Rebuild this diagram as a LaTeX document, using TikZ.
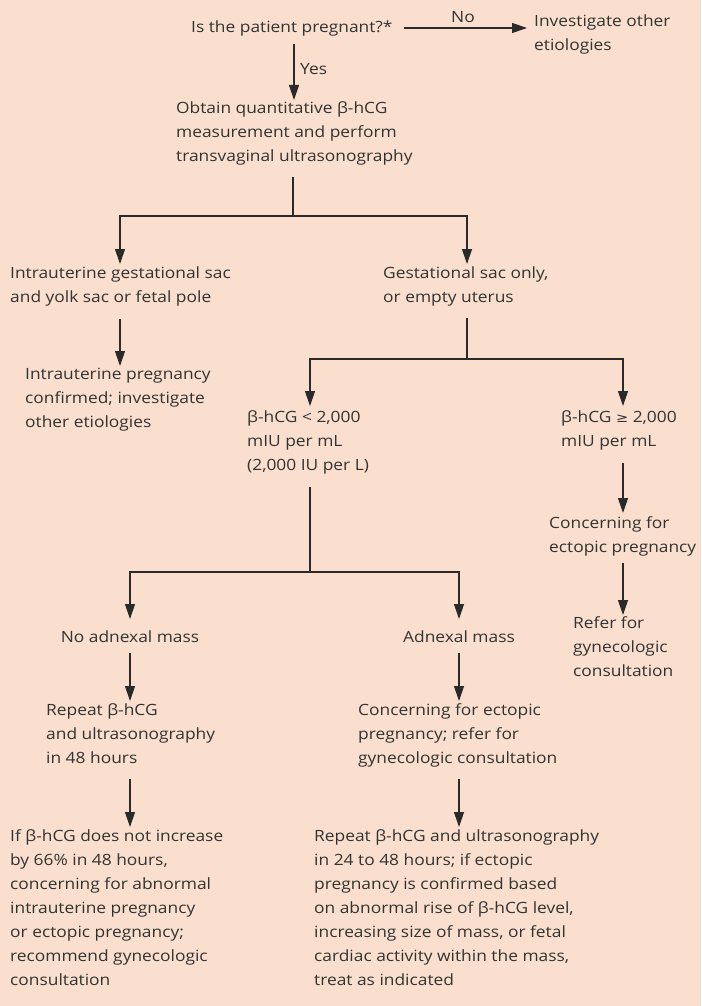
\documentclass[tikz,border=0pt]{standalone}
\usepackage{fontspec}
\setmainfont{Open Sans}[FakeStretch=1.12]
\newfontfamily\symf{DejaVu Sans}[FakeStretch=1.12]
\usetikzlibrary{arrows.meta}
\definecolor{bg}{HTML}{FADFCE}
\definecolor{ink}{HTML}{333333}
\definecolor{lnk}{HTML}{2A2A2A}
\newcommand{\bhcg}{β-hCG}
\begin{document}
\begin{tikzpicture}[x=1pt,y=-1pt,
  txt/.style={anchor=north west, inner sep=0pt, align=left, text=ink,
    font=\fontsize{15.5}{24}\selectfont, execute at begin node=\rule{0pt}{17pt}},
  ctxt/.style={txt, anchor=north, align=center},
  lbl/.style={inner sep=0pt, text=ink, font=\fontsize{15.5}{24}\selectfont},
  ln/.style={line width=1.2pt, draw=lnk},
  arr/.style={ln, -{Triangle[length=15pt,width=10pt]}}]
\fill[bg] (0,0) rectangle (701,1006);
\useasboundingbox (0,0) rectangle (701,1006);

% nodes
\node[txt] (q) at (191,15) {Is the patient pregnant?*};
\node[txt] (inv) at (534,15) {Investigate other\\etiologies};
\node[txt] (obtain) at (176,101) {Obtain quantitative \bhcg\\measurement and perform\\transvaginal ultrasonography};
\node[txt] (ius) at (10,267) {Intrauterine gestational sac\\and yolk sac or fetal pole};
\node[txt] (gso) at (383,267) {Gestational sac only,\\or empty uterus};
\node[txt] (iup) at (25,368) {Intrauterine pregnancy\\confirmed; investigate\\other etiologies};
\node[txt] (lt) at (247,410) {\bhcg{} < 2,000\\mIU per mL\\(2,000 IU per L)};
\node[txt] (ge) at (561,410) {\bhcg{} {\symf\fontsize{13}{24}\selectfont ≥} 2,000\\mIU per mL};
\node[txt] (cep) at (549,516) {Concerning for\\ectopic pregnancy};
\node[txt] (ref) at (573,616) {Refer for\\gynecologic\\consultation};
\node[ctxt] (nam) at (130,625) {No adnexal mass};
\node[ctxt] (am) at (459,625) {Adnexal mass};
\node[txt] (rep) at (46,703) {Repeat \bhcg\\and ultrasonography\\in 48 hours};
\node[txt] (cfe) at (358,703) {Concerning for ectopic\\pregnancy; refer for\\gynecologic consultation};
\node[txt] (bl) at (10,829) {If \bhcg{} does not increase\\by 66\% in 48 hours,\\concerning for abnormal\\intrauterine pregnancy\\or ectopic pregnancy;\\recommend gynecologic\\consultation};
\node[txt] (br) at (314,829) {Repeat \bhcg{} and ultrasonography\\in 24 to 48 hours; if ectopic\\pregnancy is confirmed based\\on abnormal rise of \bhcg{} level,\\increasing size of mass, or fetal\\cardiac activity within the mass,\\treat as indicated};

% labels
\node[lbl, anchor=base] (no) at (463,23) {No};
\node[lbl, anchor=base west] (yes) at (300,75) {Yes};

% connector points
\coordinate (qE) at (404,28);
\coordinate (invW) at (527,28);
\coordinate (qS) at (294,44);
\coordinate (obN) at (294,100);
\coordinate (obS) at (293,177);
\coordinate (j1) at (293,216);
\coordinate (j1L) at (120,216);
\coordinate (j1R) at (467,216);
\coordinate (iusN) at (120,264);
\coordinate (gsoN) at (467,264);
\coordinate (iusS) at (120,319);
\coordinate (iupN) at (120,366);
\coordinate (gsoS) at (467,318);
\coordinate (j2) at (467,359);
\coordinate (j2L) at (310,359);
\coordinate (j2R) at (623,359);
\coordinate (ltN) at (310,406);
\coordinate (geN) at (623,406);
\coordinate (geS) at (623,463);
\coordinate (cepN) at (623,513);
\coordinate (cepS) at (623,563);
\coordinate (refN) at (623,615);
\coordinate (ltS) at (310,487);
\coordinate (j3) at (310,572);
\coordinate (j3L) at (130,572);
\coordinate (j3R) at (459,572);
\coordinate (namN) at (130,619);
\coordinate (amN) at (459,619);
\coordinate (namS) at (130,653);
\coordinate (repN) at (130,701);
\coordinate (amS) at (459,653);
\coordinate (cfeN) at (459,701);
\coordinate (repS) at (130,779);
\coordinate (blN) at (130,827);
\coordinate (cfeS) at (459,779);
\coordinate (brN) at (459,827);

% connectors
\draw[arr] (qE) -- (invW);
\draw[arr] (qS) -- (obN);
\draw[ln] (obS) -- (j1);
\draw[arr] (j1) -- (j1L) -- (iusN);
\draw[arr] (j1) -- (j1R) -- (gsoN);
\draw[arr] (iusS) -- (iupN);
\draw[ln] (gsoS) -- (j2);
\draw[arr] (j2) -- (j2L) -- (ltN);
\draw[arr] (j2) -- (j2R) -- (geN);
\draw[arr] (geS) -- (cepN);
\draw[arr] (cepS) -- (refN);
\draw[ln] (ltS) -- (j3);
\draw[arr] (j3) -- (j3L) -- (namN);
\draw[arr] (j3) -- (j3R) -- (amN);
\draw[arr] (namS) -- (repN);
\draw[arr] (amS) -- (cfeN);
\draw[arr] (repS) -- (blN);
\draw[arr] (cfeS) -- (brN);
\end{tikzpicture}
\end{document}
